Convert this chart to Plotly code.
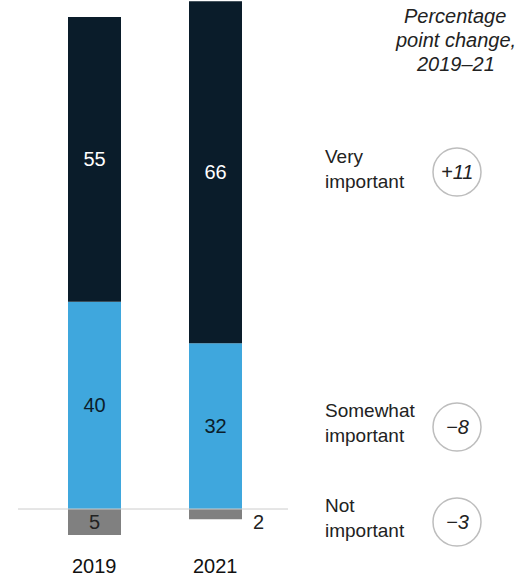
import plotly.graph_objects as go

years = ["2019", "2021"]
very = [55, 66]
somewhat = [40, 32]
not_imp = [5, 2]
series_labels = ["Very<br>important", "Somewhat<br>important", "Not<br>important"]
changes = ["+11", "\u22128", "\u22123"]
header_lines = ["Percentage", "point change,", "2019\u201321"]

W, H = 529, 580
FONT = "Liberation Sans, Arial, sans-serif"

px_per_cat = 121.0
x0_px = 94.5
base_px = 509.0
px_per_unit = 5.18

xr = [-x0_px / px_per_cat, (W - x0_px) / px_per_cat]
yr = [-(H - base_px) / px_per_unit, base_px / px_per_unit]


def py(p):
    return 1 - p / H


def pxp(p):
    return p / W


bw = 53 / px_per_cat

fig = go.Figure()
fig.add_trace(go.Bar(
    x=years, y=[-v for v in not_imp], width=bw, marker=dict(color="#808080", line=dict(width=0)),
    text=[str(not_imp[0]), ""], textposition="inside", insidetextanchor="middle", textangle=0,
    constraintext="none",
    textfont=dict(color="#222222", size=20, family=FONT), hoverinfo="skip"))
fig.add_trace(go.Bar(
    x=years, y=somewhat, width=bw, marker=dict(color="#3fa7dd", line=dict(width=0)),
    text=[str(v) for v in somewhat], textposition="inside", insidetextanchor="middle", textangle=0,
    textfont=dict(color="#0b1d2b", size=20, family=FONT), hoverinfo="skip"))
fig.add_trace(go.Bar(
    x=years, y=very, width=bw, marker=dict(color="#0a1c2a", line=dict(width=0)),
    text=[str(v) for v in very], textposition="inside", insidetextanchor="middle", textangle=0,
    textfont=dict(color="#ffffff", size=20, family=FONT), hoverinfo="skip"))

annotations = []
annotations.append(dict(x=1, y=-not_imp[1] / 2, xref="x", yref="y", text=str(not_imp[1]),
                        showarrow=False, xshift=43, yshift=-8,
                        font=dict(size=20, color="#222222", family=FONT)))
for i, yv in enumerate(years):
    annotations.append(dict(x=i, y=py(566), xref="x", yref="paper", text=yv, showarrow=False,
                            yanchor="middle",
                            font=dict(size=20, color="#111111", family=FONT)))
for line, ly in zip(header_lines, [16, 40, 64]):
    annotations.append(dict(x=pxp(455), y=py(ly), xref="paper", yref="paper",
                            text="<i>" + line + "</i>",
                            showarrow=False, xanchor="center", yanchor="middle",
                            font=dict(size=20, color="#222222", family=FONT)))

label_y = [169, 423, 518]
circle_y = [172, 427, 522]
shapes = []
for lab, ch, ly, cy in zip(series_labels, changes, label_y, circle_y):
    annotations.append(dict(x=pxp(323), y=py(ly), xref="paper", yref="paper", text=lab,
                            showarrow=False, xanchor="left", yanchor="middle", align="left",
                            font=dict(size=19, color="#222222", family=FONT)))
    annotations.append(dict(x=pxp(457), y=py(cy), xref="paper", yref="paper",
                            text="<i>" + ch + "</i>", showarrow=False,
                            xanchor="center", yanchor="middle",
                            font=dict(size=20, color="#222222", family=FONT)))
    shapes.append(dict(type="circle", xref="paper", yref="paper",
                       x0=pxp(457 - 24), x1=pxp(457 + 24), y0=py(cy + 24), y1=py(cy - 24),
                       line=dict(color="#bdbdbd", width=1.5), fillcolor="rgba(0,0,0,0)"))

shapes.append(dict(type="line", xref="paper", yref="y", x0=pxp(18), x1=pxp(288), y0=0, y1=0,
                   line=dict(color="#cccccc", width=1), layer="above"))

fig.update_layout(
    width=W, height=H, margin=dict(l=0, r=0, t=0, b=0),
    paper_bgcolor="white", plot_bgcolor="white",
    barmode="relative", showlegend=False,
    xaxis=dict(type="category", categoryorder="array", categoryarray=years, range=xr,
               visible=False, fixedrange=True),
    yaxis=dict(range=yr, visible=False, fixedrange=True),
    annotations=annotations, shapes=shapes,
    uniformtext=dict(mode=False),
)

fig.write_html("out.html", config={"displayModeBar": False},
               post_script="document.body.style.margin='0px';document.body.style.overflow='hidden';")
